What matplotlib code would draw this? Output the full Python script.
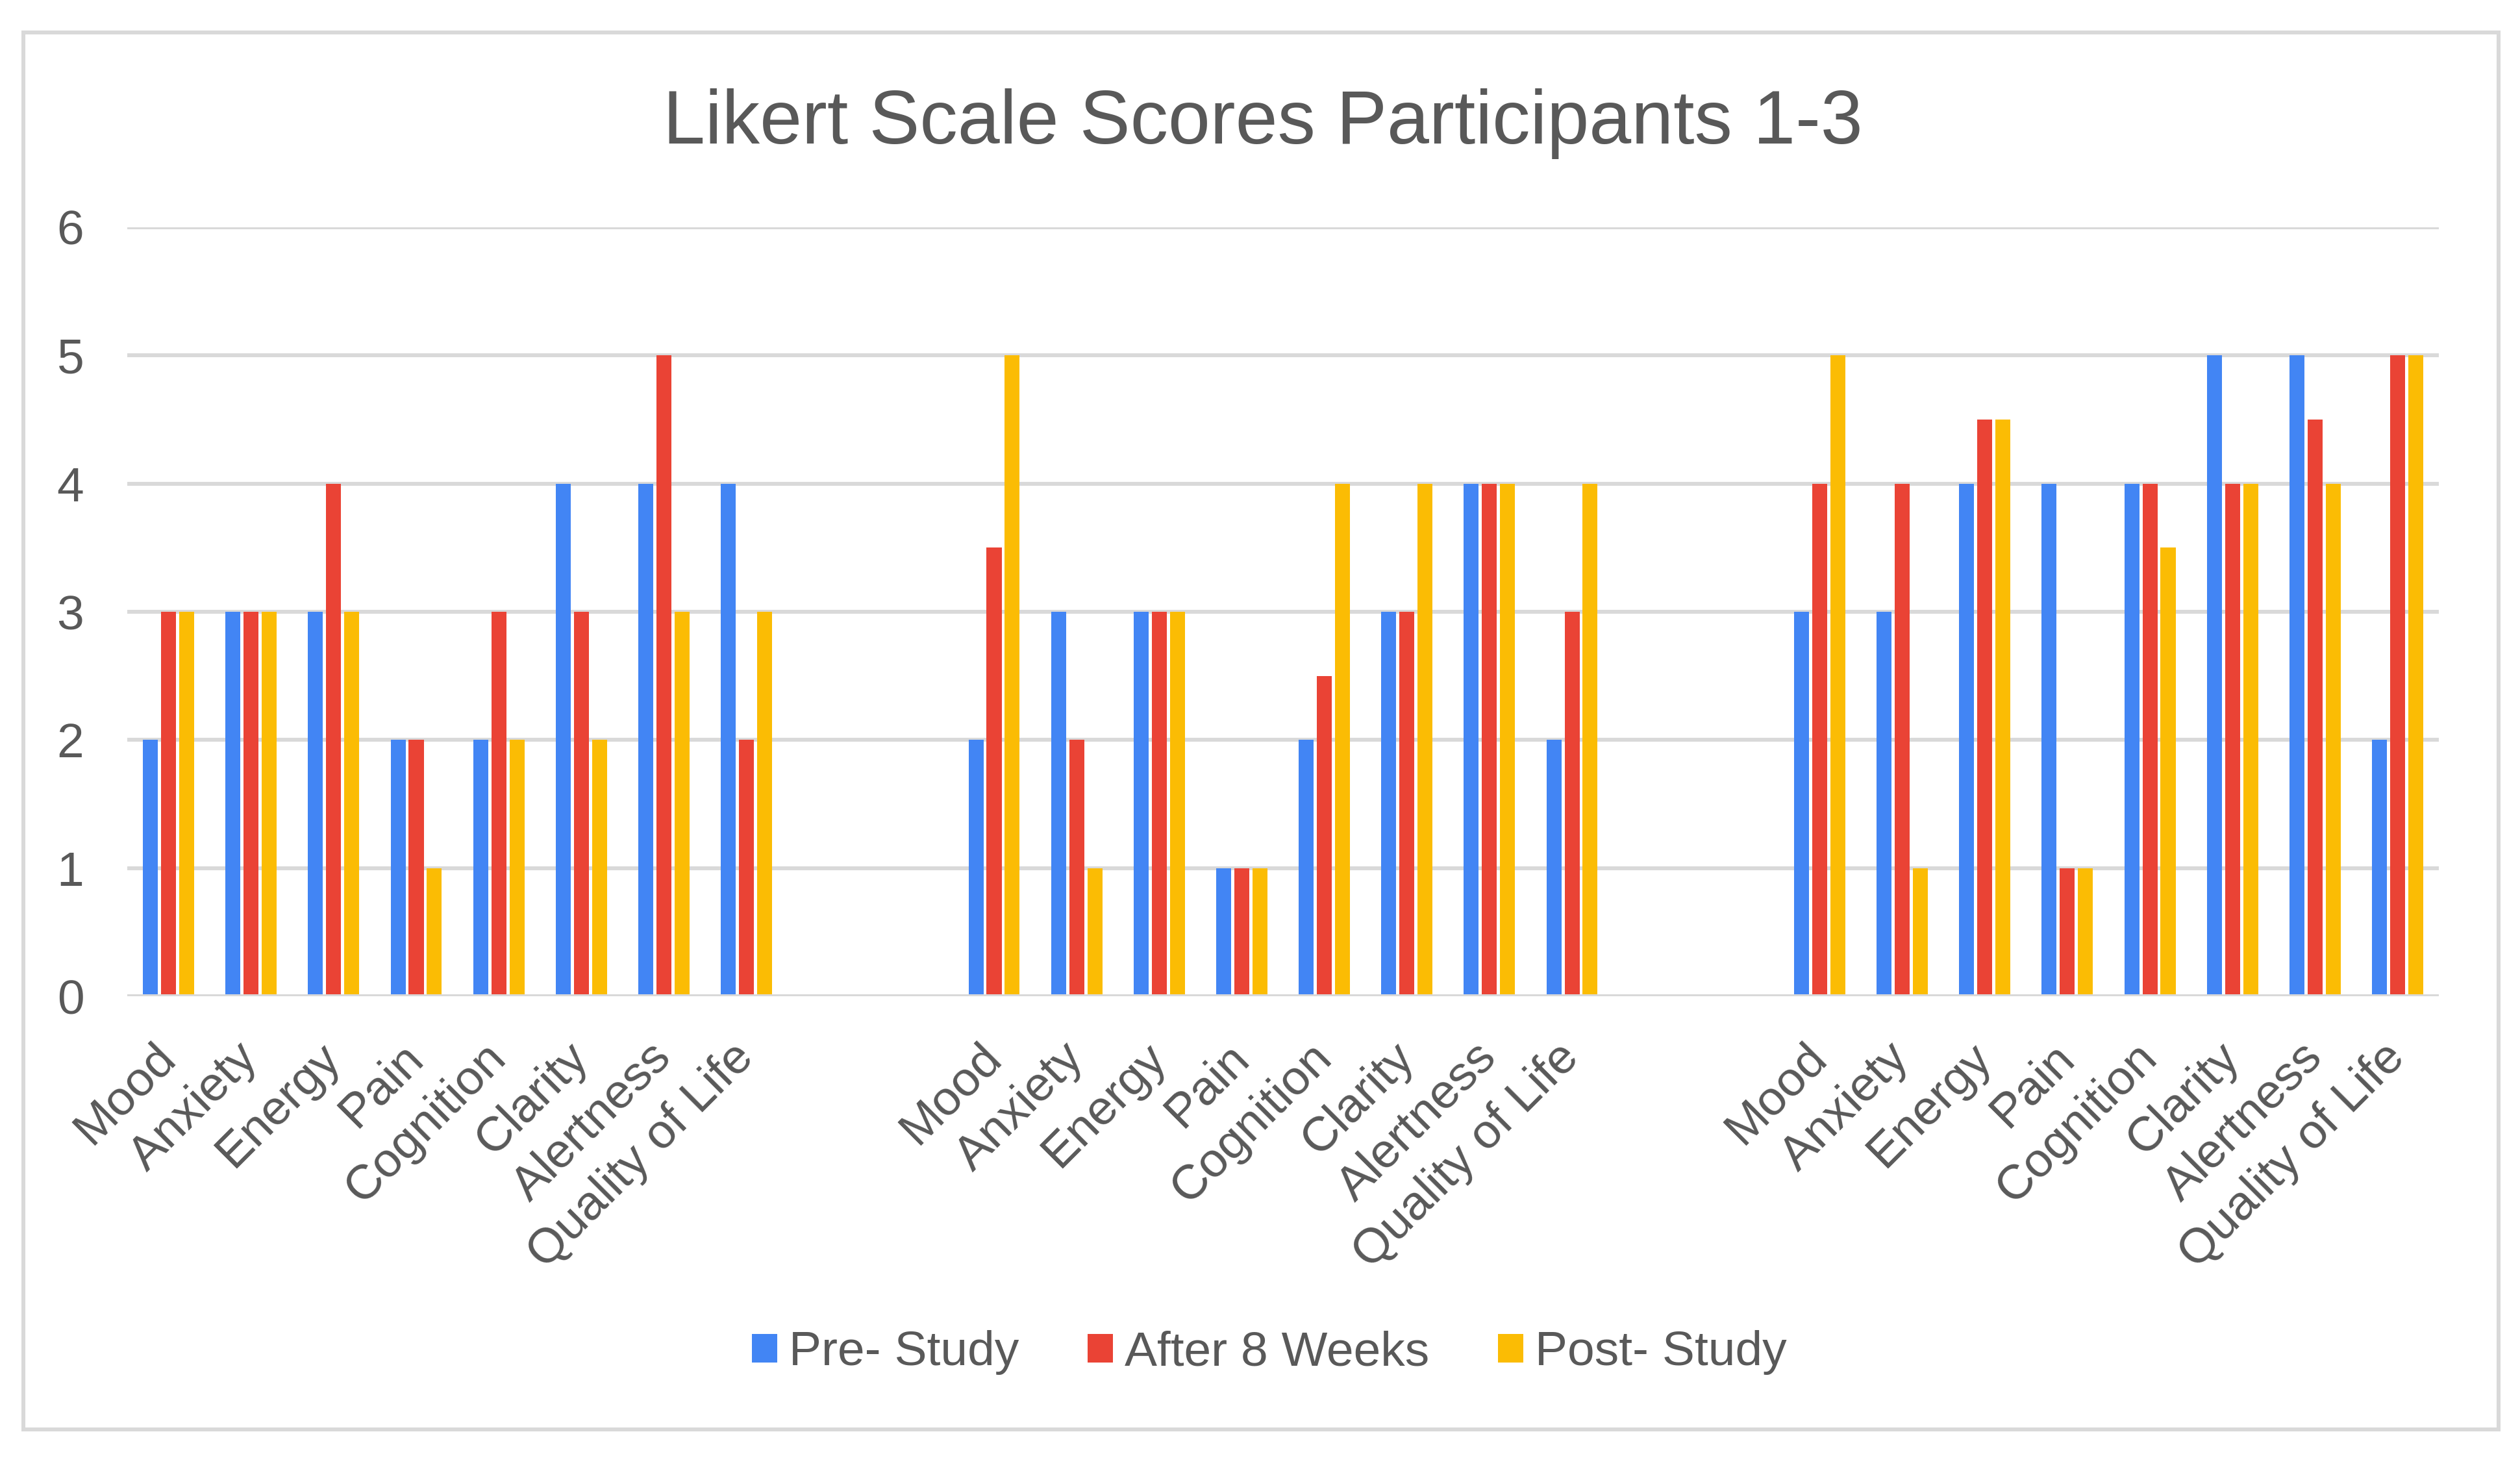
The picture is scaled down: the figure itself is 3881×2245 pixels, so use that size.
import matplotlib
matplotlib.use("Agg")
import matplotlib.pyplot as plt
import matplotlib.patches as mpatches
import numpy as np

plt.rcParams["font.family"] = ["Liberation Sans", "DejaVu Sans"]

categories = ["Mood", "Anxiety", "Energy", "Pain", "Cognition", "Clarity",
              "Alertness", "Quality of Life"]
series_names = ["Pre- Study", "After 8 Weeks", "Post- Study"]

# participant 1, 2, 3 ; one list per series
pre_study = [2, 3, 3, 2, 2, 4, 4, 4,
             2, 3, 3, 1, 2, 3, 4, 2,
             3, 3, 4, 4, 4, 5, 5, 2]
after_8_weeks = [3, 3, 4, 2, 3, 3, 5, 2,
                 3.5, 2, 3, 1, 2.5, 3, 4, 3,
                 4, 4, 4.5, 1, 4, 4, 4.5, 5]
post_study = [3, 3, 3, 1, 2, 2, 3, 3,
              5, 1, 3, 1, 4, 4, 4, 4,
              5, 1, 4.5, 1, 3.5, 4, 4, 5]

colors = ["#4285F4", "#EA4335", "#FBBC04"]
text_color = "#595959"
grid_color = "#D9D9D9"

# 8 categories per participant, two empty slots between participants
n_groups = 3
gap = 2
slots = []
for g in range(n_groups):
    slots += [g * (len(categories) + gap) + i for i in range(len(categories))]
slots = np.array(slots)
labels = categories * n_groups

fig = plt.figure(figsize=(3881 / 300, 2245 / 300), dpi=300)
ax = fig.add_axes([0.0505, 0.3167, 0.9173, 0.5274])

bar_w = 0.181
step = 0.22
for k, (vals, c, name) in enumerate(zip([pre_study, after_8_weeks, post_study], colors, series_names)):
    ax.bar(slots + (k - 1) * step, vals, width=bar_w, color=c, label=name, zorder=2)

ax.set_xlim(-0.5, slots.max() + 0.5)
ax.set_ylim(0, 6)
ax.set_yticks(range(0, 7))
ax.yaxis.grid(True, color=grid_color, linewidth=1.45, zorder=0)
ax.set_axisbelow(True)
ax.axhline(0, color=grid_color, linewidth=1.45, zorder=3)
for s in ax.spines.values():
    s.set_visible(False)

ax.set_xticks(slots)
ax.set_xticklabels(labels, rotation=45, ha="right", va="center", rotation_mode="anchor",
                   fontsize=18, color=text_color)
ax.tick_params(axis="x", length=0, pad=20)
ax.tick_params(axis="y", length=0, pad=16, labelsize=18, labelcolor=text_color)

fig.text(0.501, 0.9016, "Likert Scale Scores Participants 1-3", ha="center",
         va="baseline", fontsize=28, color=text_color)

fig.legend(loc="center", bbox_to_anchor=(0.5037, 0.0722), ncol=3, frameon=False,
           fontsize=18, labelcolor=text_color, handlelength=0.52, handleheight=0.52,
           handletextpad=0.25, columnspacing=1.4)

border = mpatches.Rectangle((0.0093, 0.0196), 0.9822, 0.9581, transform=fig.transFigure,
                            fill=False, edgecolor=grid_color, linewidth=1.45)
fig.patches.append(border)

fig.savefig("out.png", dpi=300, facecolor="white")
